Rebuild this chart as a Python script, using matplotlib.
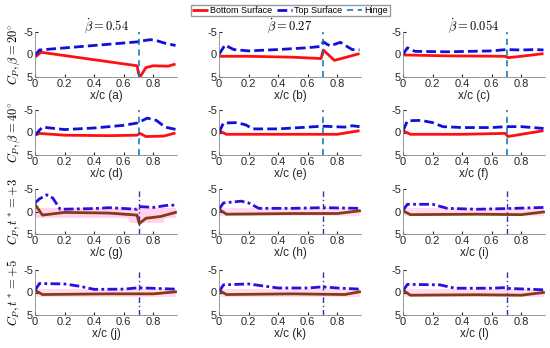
import numpy as np
import matplotlib
matplotlib.use("Agg")
import matplotlib.pyplot as plt

plt.rcParams["mathtext.fontset"] = "cm"
plt.rcParams["font.family"] = ["Liberation Sans", "DejaVu Sans"]

# ---- данные ----
col_titles = [r"$\dot{\beta} = \mathbf{0.54}$", r"$\dot{\beta} = \mathbf{0.27}$",
              r"$\dot{\beta} = \mathbf{0.054}$"]
row_labels = [r"$C_P, \beta = 20^{\circ}$", r"$C_P, \beta = 40^{\circ}$",
              r"$C_P, t^* = +3$", r"$C_P, t^* = +5$"]
letters = "abcdefghijkl"
hinge_x = 0.7

# (a)
a_top_x = [0, 0.03, 0.69, 0.72, 0.78, 0.83, 0.88, 0.95]
a_top_y = [0.2, -1.0, -2.8, -3.0, -3.3, -3.0, -2.5, -2.0]
a_bot_x = [0, 0.04, 0.69, 0.70, 0.71, 0.75, 0.8, 0.9, 0.95]
a_bot_y = [0.6, -0.5, 2.5, 4.2, 5.0, 2.9, 2.5, 2.6, 2.1]
# (b)
b_top_x = [0, 0.04, 0.1, 0.2, 0.4, 0.6, 0.69, 0.705, 0.75, 0.82, 0.9, 0.95]
b_top_y = [0, -2.1, -1.1, -0.8, -1.1, -1.5, -1.8, -2.8, -1.9, -2.7, -1.1, -1.0]
b_bot_x = [0, 0.2, 0.5, 0.69, 0.705, 0.78, 0.85, 0.95]
b_bot_y = [0.4, 0.4, 0.6, 0.9, -1.0, 1.3, 0.7, -0.2]
# (c)
c_top_x = [0, 0.03, 0.08, 0.3, 0.6, 0.7, 0.8, 0.9, 0.95]
c_top_y = [0, -1.5, -0.7, -0.6, -0.8, -1.1, -1.0, -1.1, -1.0]
c_bot_x = [0, 0.3, 0.69, 0.71, 0.8, 0.95]
c_bot_y = [0.1, 0.3, 0.4, 0.7, 0.4, -0.2]
# (d)
d_top_x = [0, 0.05, 0.2, 0.4, 0.6, 0.69, 0.76, 0.82, 0.88, 0.95]
d_top_y = [0.6, -1.2, -0.65, -1.0, -1.6, -2.1, -3.2, -2.7, -1.2, -0.7]
d_bot_x = [0, 0.03, 0.2, 0.5, 0.69, 0.71, 0.75, 0.87, 0.95]
d_bot_y = [0.6, 0.2, 0.6, 0.7, 0.6, 0.2, 0.9, 0.8, 0.1]
# (e)
e_top_x = [0, 0.03, 0.12, 0.18, 0.23, 0.4, 0.6, 0.7, 0.85, 0.9, 0.95]
e_top_y = [0, -2.1, -2.2, -1.7, -0.8, -0.8, -1.2, -1.4, -1.2, -1.5, -1.3]
e_bot_x = [0, 0.05, 0.4, 0.8, 0.95]
e_bot_y = [-0.4, 0.4, 0.4, 0.4, -0.4]
# (f)
f_top_x = [0, 0.03, 0.12, 0.2, 0.27, 0.4, 0.6, 0.7, 0.8, 0.95]
f_top_y = [-0.4, -2.6, -2.7, -2.2, -1.3, -1.1, -1.1, -1.3, -1.3, -0.9]
f_bot_x = [0, 0.05, 0.4, 0.69, 0.71, 0.8, 0.95]
f_bot_y = [-0.4, 0.4, 0.4, 0.2, 0.9, 0.4, -0.4]
# (g)
g_top_x = [0, 0.03, 0.08, 0.12, 0.17, 0.4, 0.5, 0.69, 0.71, 0.8, 0.9, 0.95]
g_top_y = [-1.9, -2.8, -3.7, -3.0, -0.5, -0.65, -0.85, -0.5, -1.1, -0.9, -1.4, -1.4]
g_bot_x = [0, 0.05, 0.2, 0.5, 0.69, 0.705, 0.75, 0.85, 0.95]
g_bot_y = [-1.6, 0.8, 0.2, 0.35, 0.8, 2.7, 1.5, 1.1, 0.2]
g_band_x = [0, 0.62, 0.64, 0.86, 0.88, 0.95]
g_band_lo = [-0.9, -0.9, -0.9, -0.9, -0.9, -0.9]
g_band_hi = [1.3, 1.3, 2.4, 2.4, 1.3, 1.3]
# (h)
h_top_x = [0, 0.03, 0.15, 0.2, 0.27, 0.5, 0.7, 0.95]
h_top_y = [-0.5, -1.9, -2.3, -1.9, -0.7, -0.7, -0.85, -0.7]
h_bot_x = [0, 0.05, 0.5, 0.8, 0.95]
h_bot_y = [-0.5, 0.6, 0.45, 0.45, -0.15]
# (i)
i_top_x = [0, 0.03, 0.2, 0.3, 0.5, 0.7, 0.95]
i_top_y = [-0.3, -1.6, -1.6, -0.7, -0.5, -0.65, -0.9]
i_bot_x = [0, 0.05, 0.5, 0.8, 0.95]
i_bot_y = [-0.15, 0.7, 0.6, 0.7, 0.1]
# (j)
j_top_x = [0, 0.03, 0.2, 0.3, 0.4, 0.6, 0.7, 0.95]
j_top_y = [-0.5, -2.0, -1.9, -1.4, -0.7, -0.75, -1.05, -0.75]
j_bot_x = [0, 0.05, 0.5, 0.8, 0.95]
j_bot_y = [-0.5, 0.45, 0.3, 0.3, -0.15]
# (k)
k_top_x = [0, 0.03, 0.2, 0.4, 0.6, 0.7, 0.8, 0.95]
k_top_y = [-0.15, -1.7, -1.9, -1.0, -1.0, -1.25, -1.0, -0.75]
k_bot_x = [0, 0.05, 0.5, 0.85, 0.95]
k_bot_y = [-0.5, 0.45, 0.3, 0.45, -0.15]
# (l)
l_top_x = [0, 0.03, 0.25, 0.35, 0.6, 0.7, 0.72, 0.95]
l_top_y = [-0.4, -1.8, -1.7, -0.95, -0.95, -1.1, -0.9, -0.6]
l_bot_x = [0, 0.05, 0.5, 0.8, 0.95]
l_bot_y = [-0.5, 0.6, 0.5, 0.6, 0.0]

# полоса для t* рядов
band_x = [0, 0.95]
band_lo = [-0.7, -0.7]
band_hi = [1.0, 1.0]

panels = [
    (a_top_x, a_top_y, a_bot_x, a_bot_y),
    (b_top_x, b_top_y, b_bot_x, b_bot_y),
    (c_top_x, c_top_y, c_bot_x, c_bot_y),
    (d_top_x, d_top_y, d_bot_x, d_bot_y),
    (e_top_x, e_top_y, e_bot_x, e_bot_y),
    (f_top_x, f_top_y, f_bot_x, f_bot_y),
    (g_top_x, g_top_y, g_bot_x, g_bot_y),
    (h_top_x, h_top_y, h_bot_x, h_bot_y),
    (i_top_x, i_top_y, i_bot_x, i_bot_y),
    (j_top_x, j_top_y, j_bot_x, j_bot_y),
    (k_top_x, k_top_y, k_bot_x, k_bot_y),
    (l_top_x, l_top_y, l_bot_x, l_bot_y),
]

fig = plt.figure(figsize=(5.5, 3.48), dpi=100)

W, H = 550, 348
col_left = [35, 219, 403]
ax_w = 142
row_top = [32, 110, 189, 270]
ax_h = 45

for n, (tx, ty, bx, by) in enumerate(panels):
    r, c = divmod(n, 3)
    ax = fig.add_axes([col_left[c] / W, 1 - (row_top[r] + ax_h) / H,
                       ax_w / W, ax_h / H])
    if r < 2:
        l1, = ax.plot(bx, by, color="#ff1010", lw=2, solid_capstyle="butt")
        l2, = ax.plot(tx, ty, color="#1010d8", lw=2, ls=(0, (3.5, 1.5)))
        l3 = ax.axvline(hinge_x, color="#0072BD", lw=1.1, ls=(0, (4, 3)))
        if n == 0:
            handles = [l1, l2, l3]
    else:
        if n == 6:
            ax.fill_between(g_band_x, g_band_lo, g_band_hi,
                            color="#ffd2f0", lw=0)
        else:
            ax.fill_between(band_x, band_lo, band_hi, color="#ffdcf4", lw=0)
        ax.plot(bx, by, color="#8a3a12", lw=2)
        ax.plot(tx, ty, color="#2a10e0", lw=2, ls=(0, (3.5, 1.2, 1, 1.2)))
        ax.axvline(hinge_x, color="#3030a8", lw=1.0, ls=(0, (4, 2, 1, 2)))

    ax.set_xlim(0, 0.96)
    ax.set_ylim(5, -5)
    ax.set_yticks([-5, 0, 5])
    ax.set_yticklabels(["-5", "0", "5"])
    ax.set_xticks([0, 0.2, 0.4, 0.6, 0.8])
    ax.set_xticklabels(["0", "0.2", "0.4", "0.6", "0.8"])
    ax.tick_params(direction="in", length=2, labelsize=8, pad=1.5,
                   colors="#262626")
    for s in ["top", "right"]:
        ax.spines[s].set_visible(False)
    for s in ["left", "bottom"]:
        ax.spines[s].set_color("#888888")
        ax.spines[s].set_linewidth(0.6)
    ax.set_xlabel(f"x/c ({letters[n]})", fontsize=8.5, labelpad=0.5,
                  color="#262626")
    if c == 0:
        ax.set_ylabel(row_labels[r], fontsize=9, labelpad=1)
    if r == 0:
        fig.text((col_left[c] + ax_w / 2) / W, 1 - 26 / H, col_titles[c],
                 ha="center", va="center", fontsize=9)

fig.legend(handles, ["Bottom Surface", "Top Surface", "Hinge"],
           loc="upper center", bbox_to_anchor=(0.528, 1.0), ncol=3,
           fontsize=6.5, handlelength=1.7, handletextpad=0.25,
           columnspacing=0.5, borderpad=0.15, fancybox=False,
           edgecolor="#999999", framealpha=1)

fig.savefig("out.png", dpi=100)
